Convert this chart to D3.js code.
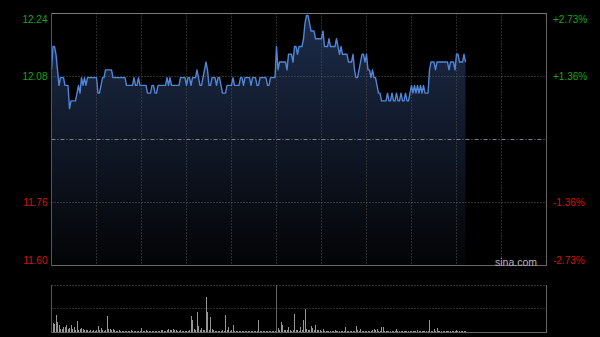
<!DOCTYPE html>
<html><head><meta charset="utf-8">
<script src="https://cdn.jsdelivr.net/npm/d3@7"></script>
<style>html,body{margin:0;padding:0;background:#000;}svg{display:block}</style>
</head><body>
<svg id="c" width="600" height="337"></svg>
<script>
// Minute prices (HK session 09:30-12:00, 13:00-16:00)
const prices = [
12.10,12.16,12.16,12.14,12.10,12.06,12.08,12.08,12.08,12.06,
12.06,12.06,12.00,12.02,12.02,12.02,12.02,12.04,12.06,12.04,
12.08,12.06,12.08,12.06,12.08,12.08,12.08,12.08,12.08,12.08,
12.08,12.04,12.04,12.06,12.08,12.08,12.10,12.10,12.10,12.10,
12.10,12.08,12.08,12.08,12.08,12.08,12.08,12.08,12.08,12.08,
12.06,12.06,12.06,12.06,12.06,12.08,12.06,12.06,12.08,12.06,
12.06,12.06,12.06,12.06,12.04,12.04,12.04,12.06,12.06,12.04,
12.04,12.06,12.06,12.06,12.06,12.06,12.06,12.08,12.06,12.08,
12.06,12.06,12.06,12.06,12.06,12.06,12.08,12.08,12.08,12.08,
12.06,12.08,12.08,12.06,12.08,12.08,12.08,12.10,12.08,12.06,
12.06,12.08,12.10,12.12,12.10,12.06,12.06,12.08,12.08,12.08,
12.06,12.08,12.08,12.06,12.04,12.04,12.04,12.06,12.06,12.06,
12.06,12.08,12.06,12.06,12.06,12.06,12.08,12.08,12.06,12.08,
12.08,12.08,12.08,12.06,12.08,12.08,12.08,12.06,12.06,12.08,
12.08,12.08,12.08,12.08,12.06,12.06,12.08,12.08,12.08,12.08,
12.16,12.10,12.12,12.12,12.12,12.12,12.12,12.10,12.14,12.14,
12.14,12.12,12.16,12.16,12.14,12.16,12.16,12.16,12.18,12.22,
12.24,12.24,12.22,12.20,12.20,12.20,12.18,12.18,12.18,12.18,
12.18,12.20,12.16,12.16,12.16,12.18,12.16,12.16,12.16,12.16,
12.18,12.16,12.14,12.16,12.14,12.14,12.14,12.14,12.12,12.12,
12.12,12.14,12.10,12.08,12.08,12.10,12.12,12.14,12.14,12.12,
12.14,12.10,12.10,12.08,12.10,12.08,12.08,12.06,12.04,12.04,
12.02,12.02,12.02,12.02,12.04,12.02,12.02,12.04,12.02,12.02,
12.04,12.02,12.02,12.04,12.02,12.02,12.04,12.02,12.02,12.04,
12.06,12.04,12.06,12.04,12.06,12.04,12.06,12.04,12.06,12.04,
12.04,12.04,12.10,12.12,12.12,12.12,12.10,12.12,12.12,12.12,
12.12,12.12,12.12,12.12,12.12,12.10,12.12,12.12,12.12,12.10,
12.14,12.14,12.12,12.12,12.12,12.14,12.12
];
// Minute volumes (10k shares)
const volumes = [
10,9,8,17,10,7,3,3,5,5,
7,3,4,7,3,5,2,11,2,3,
4,3,2,2,2,1,2,1,2,1,
2,6,2,4,2,1,2,16,3,3,
2,3,2,1,1,2,1,1,1,1,
1,1,1,2,1,1,1,1,1,1,
4,1,1,2,1,1,1,1,1,1,
1,1,1,2,2,1,1,2,3,2,
2,3,2,2,1,1,2,1,1,1,
1,1,2,16,12,3,2,20,6,2,
4,2,2,35,20,2,15,3,2,1,
1,1,1,1,2,1,17,2,5,1,
2,7,1,1,1,1,1,1,1,1,
1,1,1,1,1,1,1,1,12,1,
1,1,1,1,1,1,1,1,1,1,
2,4,2,10,7,2,2,2,5,2,
1,2,18,2,2,1,5,2,12,23,
3,2,2,6,4,2,7,2,2,2,
1,3,1,1,1,1,1,1,1,2,
1,1,1,1,1,1,5,1,1,1,
1,1,1,6,2,1,3,1,1,1,
1,1,1,1,2,3,2,3,1,1,
5,5,1,1,1,1,1,1,1,1,
3,1,1,1,1,1,1,1,1,1,
1,1,1,1,2,1,1,1,1,1,
1,1,12,1,1,3,1,4,1,1,
1,1,1,1,1,1,1,1,1,1,
2,1,1,1,1,1,1
];
const prevClose = 11.92;
const priceTicks = [12.245, 12.0825, 11.92, 11.7575, 11.595];
const priceLabels = ["12.24", "12.08", "", "11.76", "11.60"];
const pctLabels = ["+2.73%", "+1.36%", "", "-1.36%", "-2.73%"];
const tickColors = ["up", "up", "flat", "down", "down"];
const totalMinutes = 330;
const gridMinutes = [30, 60, 90, 120, 150, 180, 210, 240, 270, 300];
const middayMinute = 150;
const volMax = 47;

const svg = d3.select("#c");
const L = 51.5, R = 546.5, T = 13.5, B = 266;
const VT = 285, VB = 332;
const x = d3.scaleLinear().domain([0, totalMinutes]).range([L, R]);
const y = d3.scaleLinear().domain([priceTicks[4], priceTicks[0]]).range([B, T]);
const yv = d3.scaleLinear().domain([0, volMax]).range([VB, VT]);
const colorOf = {up: "#1aa51a", down: "#d3140c", flat: "#aaa"};
const crisp = v => Math.floor(v) + 0.5;

svg.append("rect").attr("width", 600).attr("height", 337).attr("fill", "#000");

const defs = svg.append("defs");
const grad = defs.append("linearGradient").attr("id", "g")
  .attr("gradientUnits", "userSpaceOnUse").attr("x1", 0).attr("x2", 0).attr("y1", T).attr("y2", B);
grad.append("stop").attr("offset", 0).attr("stop-color", "#1d2c4a");
grad.append("stop").attr("offset", 1).attr("stop-color", "#030405");

const area = d3.area().x((d, i) => x(i)).y0(B).y1(d => y(d));
svg.append("path").datum(prices).attr("d", area).attr("fill", "url(#g)");

// vertical grid
svg.append("g").selectAll("line").data(gridMinutes).join("line")
  .attr("x1", d => crisp(x(d))).attr("x2", d => crisp(x(d)))
  .attr("y1", T).attr("y2", B)
  .attr("stroke", "#505050").attr("stroke-width", 1).attr("stroke-dasharray", "1,2");

// horizontal grid
svg.append("g").selectAll("line").data([priceTicks[1], priceTicks[3]]).join("line")
  .attr("x1", L).attr("x2", R)
  .attr("y1", d => crisp(y(d))).attr("y2", d => crisp(y(d)))
  .attr("stroke", "#5a5a5a").attr("stroke-dasharray", "1,2");
svg.append("line").attr("x1", L).attr("x2", R)
  .attr("y1", crisp(y(prevClose))).attr("y2", crisp(y(prevClose)))
  .attr("stroke", "#7a7f88").attr("stroke-dasharray", "4,2,1,2");

// price line
const line = d3.line().x((d, i) => x(i)).y(d => y(d));
svg.append("path").datum(prices).attr("d", line)
  .attr("fill", "none").attr("stroke", "#4f86d8").attr("stroke-width", 1.4)
  .attr("stroke-linejoin", "round");

// borders main
svg.append("line").attr("x1", L).attr("x2", R + 0.5).attr("y1", T).attr("y2", T).attr("stroke", "#7a7a7a");
svg.append("line").attr("x1", L).attr("x2", R + 0.5).attr("y1", B - 0.5).attr("y2", B - 0.5).attr("stroke", "#666");
svg.append("line").attr("x1", L).attr("x2", L).attr("y1", T).attr("y2", B).attr("stroke", "#555");
svg.append("line").attr("x1", R).attr("x2", R).attr("y1", T).attr("y2", B).attr("stroke", "#666");

// axis labels
const labFont = "Liberation Sans, Arial, sans-serif";
const labY = v => Math.min(Math.max(y(v), T + 5.5), B - 6);
svg.append("g").selectAll("text").data(priceTicks).join("text")
  .attr("x", 47.5).attr("y", d => labY(d)).attr("dy", "0.36em")
  .attr("text-anchor", "end").attr("font-family", labFont).attr("font-size", 10)
  .attr("fill", (d, i) => colorOf[tickColors[i]])
  .text((d, i) => priceLabels[i]);
svg.append("g").selectAll("text").data(priceTicks).join("text")
  .attr("x", 553).attr("y", d => labY(d)).attr("dy", "0.36em")
  .attr("text-anchor", "start").attr("font-family", labFont).attr("font-size", 10)
  .attr("fill", (d, i) => colorOf[tickColors[i]])
  .text((d, i) => pctLabels[i]);

svg.append("text").attr("x", 537).attr("y", 262).attr("dy", "0.36em")
  .attr("text-anchor", "end").attr("font-family", labFont).attr("font-size", 10.5)
  .attr("fill", "#b8b8b8").text("sina.com");

// volume panel
svg.append("line").attr("x1", L).attr("x2", R).attr("y1", VT + 0.5).attr("y2", VT + 0.5)
  .attr("stroke", "#6a6a6a").attr("stroke-dasharray", "1,2");
svg.append("line").attr("x1", L).attr("x2", R).attr("y1", crisp((VT + VB) / 2)).attr("y2", crisp((VT + VB) / 2))
  .attr("stroke", "#5a5a5a").attr("stroke-dasharray", "1,2");
svg.append("g").selectAll("line").data(volumes).join("line")
  .attr("x1", (d, i) => crisp(x(i))).attr("x2", (d, i) => crisp(x(i)))
  .attr("y1", VB).attr("y2", d => yv(d))
  .attr("stroke", "#959595").attr("stroke-width", 1);
svg.append("line").attr("x1", crisp(x(middayMinute))).attr("x2", crisp(x(middayMinute)))
  .attr("y1", VT).attr("y2", VB).attr("stroke", "#666");
svg.append("line").attr("x1", L).attr("x2", R + 0.5).attr("y1", VB + 0.5).attr("y2", VB + 0.5).attr("stroke", "#666");
svg.append("line").attr("x1", L).attr("x2", L).attr("y1", VT).attr("y2", VB + 1).attr("stroke", "#555");
svg.append("line").attr("x1", R).attr("x2", R).attr("y1", VT).attr("y2", VB + 1).attr("stroke", "#666");
</script>
</body></html>
